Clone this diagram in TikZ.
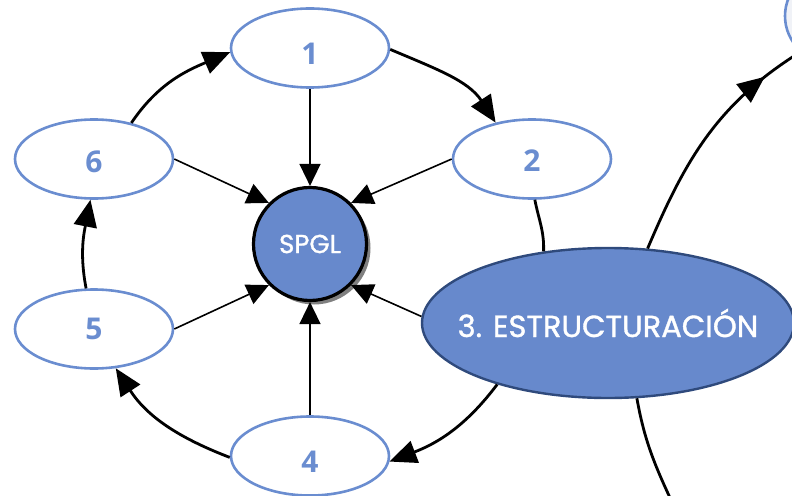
\documentclass[tikz,border=0pt]{standalone}
\usepackage{fontspec}
\newfontfamily\numfont{Open Sans}
\newfontfamily\popfont[FakeBold=1.2]{Poppins}
\usetikzlibrary{shapes.geometric,arrows.meta,shadows,decorations.markings}
\definecolor{nodeblue}{RGB}{103,137,204}
\definecolor{edgeblue}{RGB}{106,141,208}
\definecolor{navy}{RGB}{47,74,124}
\definecolor{lightfill}{RGB}{240,242,247}
\newcommand{\lowtxt}[2]{\raisebox{-#1}[\height][0pt]{#2}}
\begin{document}
\begin{tikzpicture}[x=1pt,y=-1pt,
  numnode/.style={ellipse, draw=edgeblue, line width=2.6pt, fill=white, inner sep=0pt,
    minimum width=158pt, minimum height=79pt, text=edgeblue,
    font=\numfont\bfseries\fontsize{30}{30}\selectfont},
  spglnode/.style={circle, draw=black, line width=3.2pt, fill=nodeblue, inner sep=0pt,
    minimum size=113pt, text=white, font=\popfont\fontsize{26}{26}\selectfont,
    drop shadow={shadow xshift=4pt, shadow yshift=-4pt, fill=gray, opacity=1}},
  bignode/.style={ellipse, draw=navy, line width=2.4pt, fill=nodeblue, inner sep=0pt,
    minimum width=372pt, minimum height=150pt, text=white,
    font=\popfont\fontsize{30.5}{30.5}\selectfont},
  farnode/.style={ellipse, draw=edgeblue, line width=2.6pt, fill=lightfill, inner sep=0pt,
    minimum width=100pt, minimum height=96pt},
  bigarrow/.style={line width=2.8pt, -{Triangle[length=27pt,width=23pt]}},
  thinarrow/.style={line width=1.6pt, -{Triangle[length=22pt,width=21pt]}},
  plainline/.style={line width=2.8pt},
  midarrow/.style={postaction={decorate}, decoration={markings,
    mark=at position 0.83 with {\arrow{Triangle[length=27pt,width=23pt]}}}}]
\useasboundingbox (0,0) rectangle (792,495);
\clip (0,0) rectangle (792,495);

\node[numnode] (n1) at (310,48) {\lowtxt{6pt}{1}};
\node[numnode] (n2) at (532,159) {\lowtxt{2pt}{2}};
\node[numnode] (n6) at (94,159) {\lowtxt{3pt}{6}};
\node[numnode] (n5) at (94,329) {5};
\node[numnode] (n4) at (310,456) {\lowtxt{6pt}{4}};
\node[spglnode] (sp) at (310,244) {SPGL};
\node[bignode] (n3) at (608,323) {\makebox[0pt]{3. ESTRUCTURACIÓN}};
\node[farnode] (n7) at (835,16) {};
\coordinate (b) at (678,515);

% cycle
\draw[bigarrow] (n1.-1) to[out=-23,in=123] (n2.135);
\draw[plainline] (n2.-86) to[out=-79,in=88] (n3.132);
\draw[bigarrow] (n3.209) to[out=-127,in=21] (n4.-4);
\draw[bigarrow] (n4.181) to[out=159,in=-57] (n5.-61);
\draw[bigarrow] (n5.101) to[out=101,in=-101] (n6.-95);
\draw[bigarrow] (n6.44) to[out=56,in=-157] (n1.183);

% spokes
\draw[thinarrow] (n1.south) -- (sp.north);
\draw[thinarrow] (n2.west) -- (sp.45);
\draw[thinarrow] (n6.east) -- (sp.135);
\draw[thinarrow] (n5.east) -- (sp.225);
\draw[thinarrow] (n4.north) -- (sp.south);
\draw[thinarrow] (n3.178) -- (sp.-45);

% outer links
\draw[plainline, midarrow] (n3.62) to[out=67,in=212] (n7.226);
\draw[plainline] (n3.-69) to[out=-80,in=115] (b);
\end{tikzpicture}
\end{document}
